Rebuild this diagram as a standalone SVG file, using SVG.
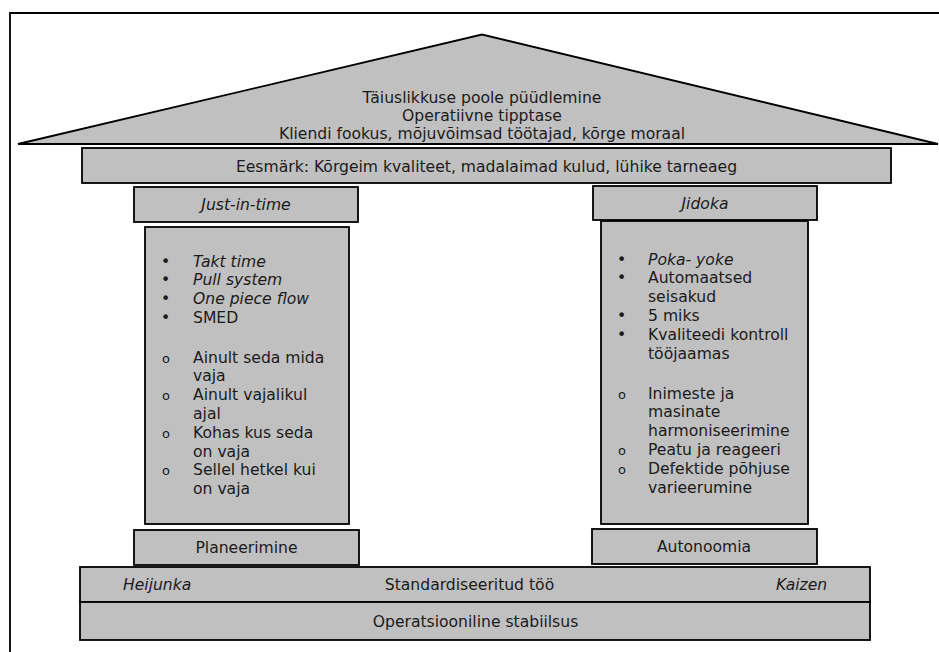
<svg xmlns="http://www.w3.org/2000/svg" width="939" height="652" viewBox="0 0 939 652">
  <style>
    .blk { fill: #c0c0c0; stroke: #000; stroke-width: 1.8; }
    .frame { stroke: #000; stroke-width: 1.8; fill: none; }
    text { font-family: "DejaVu Sans", Verdana, sans-serif; font-size: 15.6px; fill: #1a1a1a; }
    .c { text-anchor: middle; }
    .it { font-style: italic; }
    .ob { font-size: 13px; }
  </style>
  <rect width="939" height="652" fill="#fff"/>

  <!-- page frame: top and left rules only -->
  <path class="frame" d="M10 652 V13 H939"/>

  <!-- roof -->
  <g id="roof">
    <polygon class="blk" points="18,144 482,34.5 938,144"/>
    <text class="c" x="482" y="103">Täiuslikkuse poole püüdlemine</text>
    <text class="c" x="482" y="121">Operatiivne tipptase</text>
    <text class="c" x="482" y="139">Kliendi fookus, mõjuvõimsad töötajad, kõrge moraal</text>
  </g>

  <!-- goal beam -->
  <g id="goal">
    <rect class="blk" x="82" y="148" width="809" height="35"/>
    <text class="c" x="486.5" y="171.5">Eesmärk: Kõrgeim kvaliteet, madalaimad kulud, lühike tarneaeg</text>
  </g>

  <!-- left pillar -->
  <g id="jit-header">
    <rect class="blk" x="134" y="187" width="224" height="35"/>
    <text class="c it" x="246" y="210">Just-in-time</text>
  </g>
  <g id="jit-body">
    <rect class="blk" x="145" y="227" width="204" height="297"/>
    <text x="161" y="266.5">•</text><text class="it" x="193" y="266.5">Takt time</text>
    <text x="161" y="285.4">•</text><text class="it" x="193" y="285.4">Pull system</text>
    <text x="161" y="304.3">•</text><text class="it" x="193" y="304.3">One piece flow</text>
    <text x="161" y="323.2">•</text><text x="193" y="323.2">SMED</text>
    <text class="ob" x="162" y="362.5">o</text><text x="193" y="362.5">Ainult seda mida</text>
    <text x="193" y="381.3">vaja</text>
    <text class="ob" x="162" y="400.1">o</text><text x="193" y="400.1">Ainult vajalikul</text>
    <text x="193" y="418.9">ajal</text>
    <text class="ob" x="162" y="437.7">o</text><text x="193" y="437.7">Kohas kus seda</text>
    <text x="193" y="456.5">on vaja</text>
    <text class="ob" x="162" y="475.3">o</text><text x="193" y="475.3">Sellel hetkel kui</text>
    <text x="193" y="494.1">on vaja</text>
  </g>
  <g id="planning">
    <rect class="blk" x="134" y="530" width="225" height="35"/>
    <text class="c" x="246.5" y="553">Planeerimine</text>
  </g>

  <!-- right pillar -->
  <g id="jidoka-header">
    <rect class="blk" x="593" y="186" width="224" height="34"/>
    <text class="c it" x="705" y="209">Jidoka</text>
  </g>
  <g id="jidoka-body">
    <rect class="blk" x="601" y="221" width="207" height="303"/>
    <text x="617" y="264.5">•</text><text class="it" x="648" y="264.5">Poka- yoke</text>
    <text x="617" y="283.4">•</text><text x="648" y="283.4">Automaatsed</text>
    <text x="648" y="302.3">seisakud</text>
    <text x="617" y="321.2">•</text><text x="648" y="321.2">5 miks</text>
    <text x="617" y="340.1">•</text><text x="648" y="340.1">Kvaliteedi kontroll</text>
    <text x="648" y="359">tööjaamas</text>
    <text class="ob" x="618" y="398.5">o</text><text x="648" y="398.5">Inimeste ja</text>
    <text x="648" y="417.3">masinate</text>
    <text x="648" y="436.1">harmoniseerimine</text>
    <text class="ob" x="618" y="454.9">o</text><text x="648" y="454.9">Peatu ja reageeri</text>
    <text class="ob" x="618" y="473.7">o</text><text x="648" y="473.7">Defektide põhjuse</text>
    <text x="648" y="492.5">varieerumine</text>
  </g>
  <g id="autonomy">
    <rect class="blk" x="592" y="529" width="225" height="35"/>
    <text class="c" x="704" y="552">Autonoomia</text>
  </g>

  <!-- foundation -->
  <g id="standard-work">
    <rect class="blk" x="80" y="567" width="790" height="35"/>
    <text class="it" x="123" y="590">Heijunka</text>
    <text class="c" x="469.5" y="590">Standardiseeritud töö</text>
    <text class="it" x="776" y="590">Kaizen</text>
  </g>
  <g id="stability">
    <rect class="blk" x="80" y="602" width="790" height="38"/>
    <text class="c" x="475.5" y="627">Operatsiooniline stabiilsus</text>
  </g>

  <g id="connectors"/>
</svg>
